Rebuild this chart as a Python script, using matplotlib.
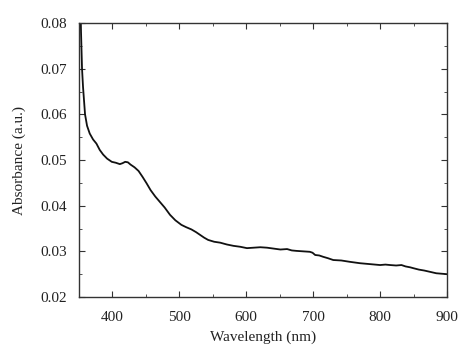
import numpy as np
import matplotlib
matplotlib.use("Agg")
import matplotlib.pyplot as plt
from matplotlib.ticker import MultipleLocator

# absorbance spectrum
wavelength = [351, 352, 353, 354.5, 356, 359, 362, 366, 371, 376, 381, 386, 392,
              399, 405, 411, 415, 419, 423, 427, 433, 439, 445, 451, 457, 464,
              471, 478, 486, 494, 503, 510, 518, 525, 531, 537, 543, 552, 561,
              571, 581, 591, 601, 611, 621, 631, 641, 651, 661, 668, 675, 685,
              695, 699, 703, 709, 715, 722, 730, 742, 755, 770, 785, 800, 808,
              815, 824, 832, 838, 845, 850, 858, 866, 875, 884, 892, 900]
absorbance = [0.095, 0.085, 0.078, 0.070, 0.066, 0.060, 0.0575, 0.0558, 0.0545,
              0.0536, 0.0522, 0.0512, 0.0503, 0.0496, 0.0494, 0.0491, 0.0493,
              0.0496, 0.0495, 0.0490, 0.0484, 0.0476, 0.0463, 0.0449, 0.0434,
              0.0420, 0.0408, 0.0396, 0.0380, 0.0368, 0.0358, 0.0353, 0.0348,
              0.0342, 0.0336, 0.0330, 0.0325, 0.0321, 0.0319, 0.0315, 0.0312,
              0.0310, 0.0307, 0.0308, 0.0309, 0.0308, 0.0306, 0.0304, 0.0305,
              0.0302, 0.0301, 0.0300, 0.0299, 0.0297, 0.0292, 0.0291, 0.0288,
              0.0285, 0.0281, 0.0280, 0.0277, 0.0274, 0.0272, 0.0270, 0.0271,
              0.0270, 0.0269, 0.0270, 0.0267, 0.0265, 0.0263, 0.0260, 0.0258,
              0.0255, 0.0252, 0.0251, 0.0250]

plt.rcParams["font.family"] = ["Liberation Serif", "DejaVu Serif"]
plt.rcParams["font.size"] = 11

fig = plt.figure(figsize=(4.74, 3.63), dpi=100)
ax = fig.add_axes([0.1667, 0.1818, 0.7763, 0.7548])
ax.plot(wavelength, absorbance, color="#111111", lw=1.3)

ax.set_xlim(350, 900)
ax.set_ylim(0.02, 0.08)
ax.xaxis.set_major_locator(MultipleLocator(100))
ax.xaxis.set_minor_locator(MultipleLocator(50))
ax.yaxis.set_minor_locator(MultipleLocator(0.005))
ax.set_yticks([0.02, 0.03, 0.04, 0.05, 0.06, 0.07, 0.08])
ax.set_yticklabels(["0.02", "0.03", "0.04", "0.05", "0.06", "0.07", "0.08"])
ax.tick_params(which="both", direction="in", top=True, right=True, color="#333333")
ax.tick_params(which="major", length=4)
ax.tick_params(which="minor", length=2.5)
ax.tick_params(axis="x", which="major", pad=10)
ax.tick_params(axis="y", which="major", pad=9)
for s in ax.spines.values():
    s.set_color("#333333")
    s.set_linewidth(1.0)

ax.set_xlabel("Wavelength (nm)", color="#222222", labelpad=5)
ax.set_ylabel("Absorbance (a.u.)", color="#222222", labelpad=10)
for lab in ax.get_xticklabels() + ax.get_yticklabels():
    lab.set_color("#222222")

fig.savefig("out.png", dpi=100)
